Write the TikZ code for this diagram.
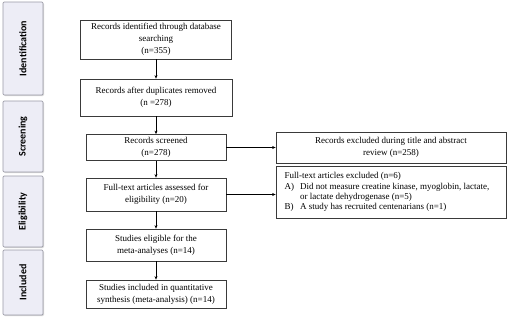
\documentclass[tikz,border=0pt]{standalone}
\usepackage{fontspec}
\setmainfont{Liberation Serif}
\newfontfamily\stagefont{Carlito}
\usetikzlibrary{arrows.meta,shadows}

\definecolor{stagefill}{HTML}{EDEDF6}
\definecolor{stageline}{HTML}{9A9AA6}
\definecolor{boxline}{HTML}{3A3A3A}

\tikzset{
  stagebox/.style={draw=stageline, fill=stagefill, line width=0.7pt, rounded corners=1.2pt,
    drop shadow={shadow xshift=1pt, shadow yshift=-1pt, fill=black!30},
    minimum width=40pt, inner sep=0pt, font=\stagefont\bfseries\fontsize{10}{11}\selectfont},
  flowbox/.style={draw=boxline, line width=0.8pt, inner sep=1pt, align=center,
    font=\fontsize{9}{11.8}\selectfont},
  flowarrow/.style={draw=black, line width=0.6pt, -{Stealth[length=3.5pt,width=3pt]}},
}

\begin{document}
\begin{tikzpicture}[x=1pt, y=-1pt]

  %% ==== stage bars ====
  \node[stagebox, minimum height=93pt] (sid) at (23,48.5)  {\rotatebox{90}{Identification}};
  \node[stagebox, minimum height=71pt] (ssc) at (23,136.5) {\rotatebox{90}{Screening}};
  \node[stagebox, minimum height=71pt] (sel) at (23,211.5) {\rotatebox{90}{Eligibility}};
  \node[stagebox, minimum height=65pt] (sin) at (23,282.5) {\rotatebox{90}{Included}};

  %% ==== main column ====
  \node[flowbox, minimum width=151pt, minimum height=39pt] (ident) at (156,39.5)
    {Records identified through database\\ searching\\ (n=355)};
  \node[flowbox, minimum width=152pt, minimum height=37pt] (dupl) at (156,97.5)
    {Records after duplicates removed\\ (n =278)};
  \node[flowbox, minimum width=140pt, minimum height=26pt] (scr) at (156,147.5)
    {Records screened\\ (n=278)};
  \node[flowbox, minimum width=140pt, minimum height=33pt] (full) at (156,194.5)
    {Full-text articles assessed for\\ eligibility (n=20)};
  \node[flowbox, minimum width=140pt, minimum height=32pt] (elig) at (156,245)
    {Studies eligible for the\\ meta-analyses (n=14)};
  \node[flowbox, minimum width=140pt, minimum height=28pt] (incl) at (156,294)
    {Studies included in quantitative\\ synthesis (meta-analysis) (n=14)};

  %% ==== exclusions ====
  \node[flowbox, minimum width=230pt, minimum height=52pt, align=left] (fexcl) at (391,192)
    {\begin{tabular}{@{}l@{\hspace{6pt}}l@{}}
      \multicolumn{2}{@{}l}{Full-text articles excluded (n=6)}\\[-1.5pt]
      A) & Did not measure creatine kinase, myoglobin, lactate,\\[-1.5pt]
         & or lactate dehydrogenase (n=5)\\[-1.5pt]
      B) & A study has recruited centenarians (n=1)
    \end{tabular}\hspace{8pt}};
  \node[flowbox, minimum width=230pt, minimum height=31pt] (excl) at (391,147.5)
    {Records excluded during title and abstract\\ review (n=258)};

  %% ==== arrows ====
  \draw[flowarrow] (ident) -- (dupl);
  \draw[flowarrow] (dupl) -- (scr);
  \draw[flowarrow] (scr) -- (full);
  \draw[flowarrow] (full) -- (elig);
  \draw[flowarrow] (elig) -- (incl);
  \draw[flowarrow] (scr.east) -- (excl.west);
  \draw[flowarrow] (full.east) -- (full.east -| fexcl.west);

  % canvas
  \pgfresetboundingbox
  \path[use as bounding box] (0,0) rectangle (508,317);
\end{tikzpicture}
\end{document}
